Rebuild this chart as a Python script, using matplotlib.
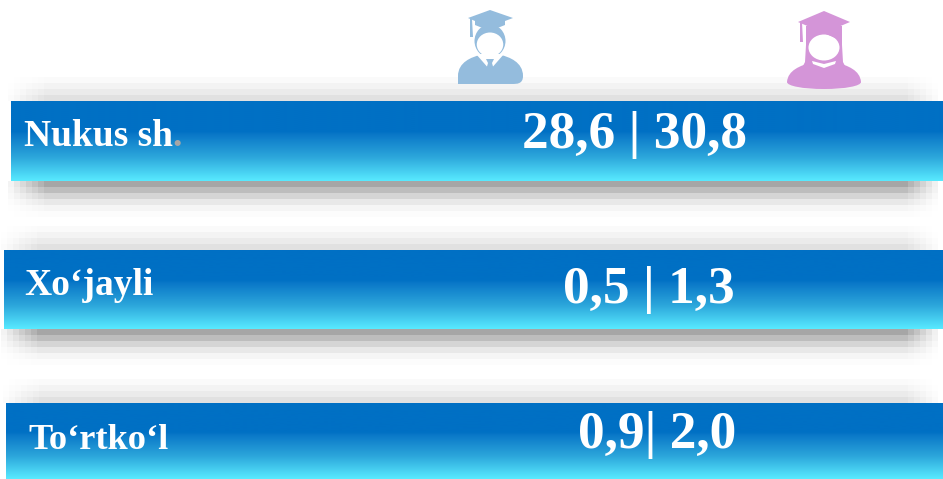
import numpy as np
import matplotlib
matplotlib.use('Agg')
import matplotlib.pyplot as plt
from matplotlib.patches import Ellipse, PathPatch, Polygon
from matplotlib.path import Path
from matplotlib.colors import LinearSegmentedColormap

# data
regions = ['Nukus sh', 'Xo‘jayli', 'To‘rtko‘l']
male_share = ['28,6', '0,5', '0,9']
female_share = ['30,8', '1,3', '2,0']
separators = [' | ', ' | ', '| ']

# layout, in pixels of the picture
W, H = 943, 479
bar_left = [11, 4, 6]
bar_top = [101, 250, 403]
bar_bottom = [181, 329, 479]
label_x = [24, 24, 28]
label_y = [146, 295, 449]
label_size = [27, 27, 26.2]
value_x = [634, 649, 657]
value_y = [148, 303, 448]

MALE = '#94bcdd'
FEMALE = '#d495d8'
shadow_above = [0.88, 0.92, 0.955, 0.98]
shadow_below = [0.65, 0.74, 0.835, 0.91, 0.96, 0.985]

plt.rcParams['font.family'] = ['Liberation Serif', 'DejaVu Serif']

fig = plt.figure(figsize=(W / 100, H / 100), dpi=100)
ax = fig.add_axes([0, 0, 1, 1])
ax.axis('off')

bar_cmap = LinearSegmentedColormap.from_list(
    'bar', [(0, '#0070c4'), (0.38, '#0070c4'), (0.42, '#0a78c8'),
            (0.7, '#2ca6db'), (1, '#58eaff')])
gradient = np.linspace(0, 1, 200).reshape(-1, 1)


def draw_shadow(left, top, bottom):
    # blocky soft shadow, 6 px steps like the upscaled original
    canvas = np.ones((H, W))
    xs = np.arange(W)
    fade_left = np.clip((xs - (left - 9)) // 6 * 6 / 42, 0, 1)
    fade_right = np.clip((W - xs) // 6 * 6 / 36, 0, 1)
    fade = fade_left * fade_right
    for i, level in enumerate(shadow_above):
        y0, y1 = max(top - 6 * (i + 1), 0), max(top - 6 * i, 0)
        canvas[y0:y1] = np.minimum(canvas[y0:y1], 1 - (1 - level) * fade)
    for i, level in enumerate(shadow_below):
        y0, y1 = min(bottom + 6 * i, H), min(bottom + 6 * (i + 1), H)
        canvas[y0:y1] = np.minimum(canvas[y0:y1], 1 - (1 - level) * fade)
    ax.imshow(canvas, cmap='gray', vmin=0, vmax=1, extent=(0, W, H, 0),
              aspect='auto', interpolation='nearest', zorder=1, alpha=(canvas < 1).astype(float))


def blob(verts, codes, color, z=4):
    ax.add_patch(PathPatch(Path(verts, codes), fc=color, ec='none', zorder=z))


M, L, C, Z = Path.MOVETO, Path.LINETO, Path.CURVE4, Path.CLOSEPOLY


def draw_male(color):
    body = [(458, 76), (458, 62), (472, 57), (480, 55), (501, 55), (509, 57),
            (523, 62), (523, 76), (523, 84), (517, 84), (512, 84), (470, 84),
            (464, 84), (458, 84), (458, 76), (458, 76)]
    blob(body, [M, C, C, C, L, C, C, C, C, C, L, C, C, C, L, Z], color)
    ax.add_patch(Polygon([(476, 54), (504, 54), (490, 70)], fc='white', ec='none', zorder=5))
    ax.add_patch(Polygon([(486, 59), (494, 59), (492, 63), (494, 70), (486, 70), (488, 63)],
                         fc=color, ec='none', zorder=6))
    ax.add_patch(Ellipse((490, 41), 31, 33, fc=color, ec='none', zorder=4))
    ax.add_patch(Ellipse((490, 44.5), 26.5, 24, fc='white', ec='none', zorder=5))
    ax.add_patch(Polygon([(468, 18), (490, 10), (513, 18), (505, 21), (505, 25),
                          (490, 31), (475, 25), (475, 21)], fc=color, ec='none', zorder=6))
    ax.add_patch(Polygon([(470, 19), (472, 19), (473, 37), (470, 37)], fc=color, ec='none', zorder=6))


def draw_female(color):
    body = [(787, 82), (788, 70), (800, 66), (812, 62), (836, 62), (848, 66),
            (860, 70), (861, 82), (861, 86), (845, 89), (824, 89), (803, 89),
            (787, 86), (787, 82), (787, 82)]
    blob(body, [M, C, C, C, L, C, C, C, C, C, C, C, C, L, Z], color)
    hair = [(806, 26), (842, 26), (842, 45), (843, 62), (845, 66), (803, 66), (805, 62), (806, 45)]
    ax.add_patch(Polygon(hair, fc=color, ec='none', zorder=4))
    ax.add_patch(Ellipse((824, 47.5), 31, 26, fc='white', ec='none', zorder=5))
    ax.add_patch(Polygon([(806, 28), (842, 28), (842, 41), (826, 34), (815, 34), (810, 40)],
                         fc=color, ec='none', zorder=6))
    ax.add_patch(Polygon([(812, 61), (824, 64), (836, 61),
                          (835, 64), (824, 68), (813, 64)], fc='white', ec='none', zorder=6))
    ax.add_patch(Polygon([(798, 22), (824, 11), (850, 22), (824, 33)], fc=color, ec='none', zorder=7))
    ax.add_patch(Polygon([(800, 22), (802, 22), (803, 42), (800, 42)], fc=color, ec='none', zorder=7))


ax.set_xlim(0, W)
ax.set_ylim(H, 0)

for i in range(len(regions)):
    draw_shadow(bar_left[i], bar_top[i], bar_bottom[i])
    ax.imshow(gradient, cmap=bar_cmap, vmin=0, vmax=1, aspect='auto', zorder=2,
              extent=(bar_left[i], W, bar_bottom[i], bar_top[i]))
    ax.set_xlim(0, W)
    ax.set_ylim(H, 0)
    t = ax.text(label_x[i], label_y[i], regions[i], color='white', fontsize=label_size[i],
                fontweight='bold', va='baseline', ha='left', zorder=8)
    if i == 0:
        # grey dot after the first label, as in the original
        fig.canvas.draw()
        bb = t.get_window_extent()
        ax.text(bb.x1 - 1, label_y[i], '.', color='#a6a6a6', fontsize=label_size[i], fontweight='bold',
                va='baseline', ha='left', zorder=8)
    ax.text(value_x[i], value_y[i], male_share[i] + separators[i] + female_share[i],
            color='white', fontsize=38.4, fontweight='bold', va='baseline', ha='center', zorder=8)

draw_male(MALE)
draw_female(FEMALE)

ax.set_xlim(0, W)
ax.set_ylim(H, 0)

fig.savefig('out.png', dpi=100, facecolor='white')
